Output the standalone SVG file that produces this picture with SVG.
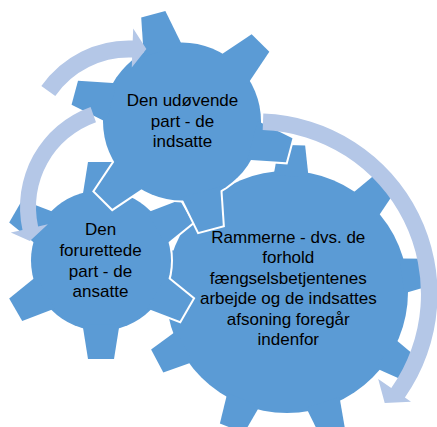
<svg xmlns="http://www.w3.org/2000/svg" xmlns:xlink="http://www.w3.org/1999/xlink" width="437" height="427" viewBox="0 0 437 427">
<style>
.ol{fill:#fff;stroke:#fff;stroke-width:4}
.fl{fill:#5B9BD5;stroke:none}
.arrow{fill:#B4C7E7;stroke:none}
text{font-family:"Liberation Sans",Arial,sans-serif;font-size:17px;fill:#000;text-anchor:middle}
</style>
<defs>
<g id="gear9">
<circle r="121"/>
<polygon points="-17.5,-116 17.5,-116 13,-147 -13,-147" transform="rotate(2)"/>
<polygon points="-17.5,-116 17.5,-116 13,-147 -13,-147" transform="rotate(42)"/>
<polygon points="-17.5,-116 17.5,-116 13,-147 -13,-147" transform="rotate(82)"/>
<polygon points="-17.5,-116 17.5,-116 13,-147 -13,-147" transform="rotate(122)"/>
<polygon points="-17.5,-116 17.5,-116 13,-147 -13,-147" transform="rotate(162)"/>
<polygon points="-17.5,-116 17.5,-116 13,-147 -13,-147" transform="rotate(202)"/>
<polygon points="-17.5,-116 17.5,-116 13,-147 -13,-147" transform="rotate(242)"/>
<polygon points="-17.5,-116 17.5,-116 13,-147 -13,-147" transform="rotate(282)"/>
<polygon points="-17.5,-116 17.5,-116 13,-147 -13,-147" transform="rotate(322)"/>
</g>
<g id="gearL">
<circle r="70"/>
<polygon points="-18.5,-64 18.5,-64 13,-98.5 -13,-98.5" transform="rotate(0)"/>
<polygon points="-18.5,-64 18.5,-64 13,-98.5 -13,-98.5" transform="rotate(60)"/>
<polygon points="-18.5,-64 18.5,-64 13,-98.5 -13,-98.5" transform="rotate(120)"/>
<polygon points="-18.5,-64 18.5,-64 13,-98.5 -13,-98.5" transform="rotate(180)"/>
<polygon points="-18.5,-64 18.5,-64 13,-98.5 -13,-98.5" transform="rotate(240)"/>
<polygon points="-18.5,-64 18.5,-64 13,-98.5 -13,-98.5" transform="rotate(300)"/>
</g>
<g id="gearU">
<circle r="79"/>
<polygon points="-20,-73 20,-73 12.5,-111 -12.5,-111" transform="rotate(-15)"/>
<polygon points="-20,-73 20,-73 12.5,-111 -12.5,-111" transform="rotate(45)"/>
<polygon points="-20,-73 20,-73 12.5,-111 -12.5,-111" transform="rotate(105)"/>
<polygon points="-20,-73 20,-73 12.5,-111 -12.5,-111" transform="rotate(165)"/>
<polygon points="-20,-73 20,-73 12.5,-111 -12.5,-111" transform="rotate(225)"/>
<polygon points="-20,-73 20,-73 12.5,-111 -12.5,-111" transform="rotate(285)"/>
</g>
</defs>
<g id="node-rammerne">
<use xlink:href="#gear9" href="#gear9" class="ol" transform="translate(287,292)"/>
<use xlink:href="#gear9" href="#gear9" class="fl" transform="translate(287,292)"/>
<text x="288.3" y="242.5">Rammerne - dvs. de</text>
<text x="288.3" y="263">forhold</text>
<text x="288.3" y="283.5">fængselsbetjentenes</text>
<text x="288.3" y="304">arbejde og de indsattes</text>
<text x="288.3" y="324.5">afsoning foregår</text>
<text x="288.3" y="345">indenfor</text>
</g>
<g id="node-forurettede">
<use xlink:href="#gearL" href="#gearL" class="ol" transform="translate(101,260.5)"/>
<use xlink:href="#gearL" href="#gearL" class="fl" transform="translate(101,260.5)"/>
<text x="100.5" y="235">Den</text>
<text x="100.5" y="256">forurettede</text>
<text x="100.5" y="276.5">part - de</text>
<text x="100.5" y="297">ansatte</text>
</g>
<g id="node-udoevende">
<use xlink:href="#gearU" href="#gearU" class="ol" transform="translate(182,121.5)"/>
<use xlink:href="#gearU" href="#gearU" class="fl" transform="translate(182,121.5)"/>
<text x="182.5" y="106">Den udøvende</text>
<text x="182.5" y="126.7">part - de</text>
<text x="182.5" y="147.3">indsatte</text>
</g>
<g id="connectors">
<path class="arrow" d="M41.35,86.1 A107,107 0 0 1 132.7,40.6 L133.2,28.6 L146.4,49 L131.8,67.5 L132.1,57.6 A90,90 0 0 0 55.27,95.9 Z"/>
<path class="arrow" d="M90.6,107.1 A106,106 0 0 0 22.5,229.9 L10.8,232.5 L29.9,241 L47.9,224.3 L38.1,226.5 A90,90 0 0 1 96,122.2 Z"/>
<path class="arrow" d="M263.3,113.6 A180.5,180.5 0 0 1 404.9,397.5 L411,401.8 L384.7,403.1 L378.2,378.9 L391.3,388.1 A164,164 0 0 0 262.7,130.1 Z"/>
</g>
</svg>
